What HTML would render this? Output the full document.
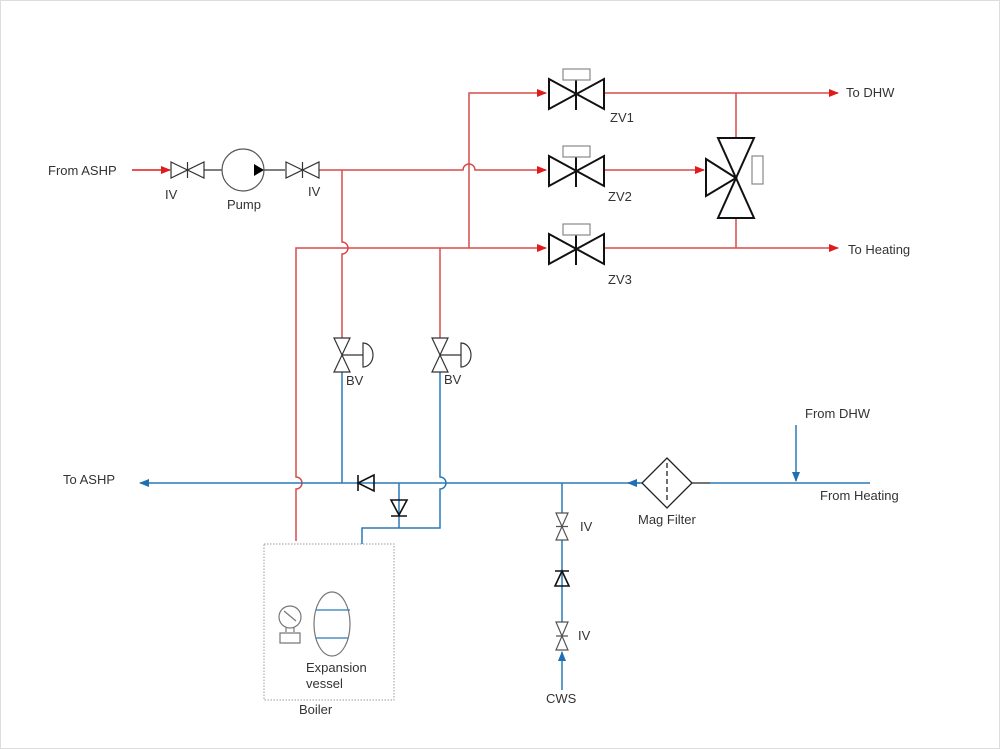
<!DOCTYPE html>
<html><head><meta charset="utf-8"><style>
html,body{margin:0;padding:0;background:#fff}
svg{display:block}
text{font-family:"Liberation Sans",Arial,sans-serif;font-size:13px;fill:#333}
</style></head><body>
<svg width="1000" height="749" viewBox="0 0 1000 749" xmlns="http://www.w3.org/2000/svg">
<defs>
<marker id="ar" markerWidth="10" markerHeight="8" refX="9" refY="4" orient="auto" markerUnits="userSpaceOnUse"><path d="M0,0 L10,4 L0,8 Z" fill="#e01b1b"/></marker>
<marker id="ab" markerWidth="10" markerHeight="8" refX="9" refY="4" orient="auto" markerUnits="userSpaceOnUse"><path d="M0,0 L10,4 L0,8 Z" fill="#1f6fb5"/></marker>
</defs>
<rect x="0.5" y="0.5" width="999" height="748" fill="none" stroke="#ddd"/>
<g fill="none" stroke="#d94a4a" stroke-width="1.5">
<path d="M132,170 H170" stroke="#e01b1b" marker-end="url(#ar)"/>
<path d="M319,170 H463 a6,6 0 0 1 12,0 H546" marker-end="url(#ar)"/>
<path d="M469,248 V93 H546" marker-end="url(#ar)"/>
<path d="M296,541 V489 a6,6 0 0 0 0,-12 V248 H546" marker-end="url(#ar)"/>
<path d="M342,170 V242 a6,6 0 0 1 0,12 V338"/>
<path d="M440,248 V338"/>
<path d="M604,93 H838" marker-end="url(#ar)"/>
<path d="M604,170 H704" marker-end="url(#ar)"/>
<path d="M604,248 H838" marker-end="url(#ar)"/>
<path d="M736,93 V138 M736,218 V248"/>
</g>
<g fill="none" stroke="#2a7ab8" stroke-width="1.5">
<path d="M870,483 H710"/>
<path d="M640,483 H140" marker-end="url(#ab)"/>
<path d="M642,483 H628" marker-end="url(#ab)"/>
<path d="M796,425 V481" marker-end="url(#ab)"/>
<path d="M342,372 V483 M440,372 V477 a6,6 0 0 1 0,12 V528 H362 V544 M399,483 V528"/>
<path d="M562,483 V513 M562,540 V622"/>
<path d="M562,690 V652" marker-end="url(#ab)"/>
</g>
<!-- IV valves on pump line -->
<g fill="none" stroke="#333" stroke-width="1.2">
<path d="M171,162 L204,178 V162 L171,178 Z M187.5,162 V178"/>
<path d="M204,170 H222 M264,170 H285"/>
<circle cx="243" cy="170" r="21" stroke="#555"/>
<path d="M286,162 L319,178 V162 L286,178 Z M302.5,162 V178"/>
</g>
<path d="M254,164 L264,170 L254,176 Z" fill="#000"/>
<!-- ZV valves -->
<g fill="none" stroke="#111" stroke-width="2">
<path d="M549,79 L604,109 V79 L549,109 Z M576,80 V110"/>
<path d="M549,156 L604,186 V156 L549,186 Z M576,157 V187"/>
<path d="M549,234 L604,264 V234 L549,264 Z M576,235 V265"/>
<path d="M718,138 H754 L718,218 H754 Z"/>
<path d="M706,159 L736,178 L706,196 Z"/>
</g>
<g fill="none" stroke="#888" stroke-width="1.2">
<rect x="563" y="69" width="27" height="11"/>
<rect x="563" y="146" width="27" height="11"/>
<rect x="563" y="224" width="27" height="11"/>
<rect x="752" y="156" width="11" height="28"/>
</g>
<!-- BV -->
<g fill="none" stroke="#333" stroke-width="1.2">
<path d="M334,338 H350 L334,372 H350 Z M342,355 H363 M363,343 a10,12 0 0 1 0,24 Z"/>
<path d="M432,338 H448 L432,372 H448 Z M440,355 H461 M461,343 a10,12 0 0 1 0,24 Z"/>
</g>
<!-- check valves -->
<g fill="none" stroke="#111" stroke-width="1.6">
<path d="M358,475 V491 M374,475 L358,483 L374,491 Z"/>
<path d="M391,500 H407 L399,515 Z M391,516 H407"/>
<path d="M555,586 L562,571 L569,586 Z M555,571 H569"/>
</g>
<!-- CWS IVs -->
<g fill="none" stroke="#555" stroke-width="1.2">
<path d="M556,513 H568 L556,540 H568 Z M556,526.5 H568"/>
<path d="M556,622 H568 L556,650 H568 Z M556,636 H568"/>
</g>
<!-- Mag filter -->
<g fill="none" stroke="#222" stroke-width="1.3">
<path d="M667,458 L692,483 L667,508 L642,483 Z"/>
<path d="M667,463 V503" stroke-dasharray="5,3"/>
<path d="M692,483 H710"/>
</g>
<!-- Boiler -->
<rect x="264" y="544" width="130" height="156" fill="none" stroke="#999" stroke-dasharray="1.5,1.5"/>
<g fill="none" stroke="#777" stroke-width="1.2">
<circle cx="290" cy="617" r="11"/>
<path d="M284,611 L296,621"/>
<path d="M286,628 V632 M294,628 V632 M280,633 H300 V643 H280 Z"/>
<ellipse cx="332" cy="624" rx="18" ry="32"/>
</g>
<path d="M316,610 H350 M316,638 H348" stroke="#2a7ab8" stroke-width="1.3"/>
<!-- labels -->
<text x="48" y="175">From ASHP</text>
<text x="165" y="199">IV</text>
<text x="227" y="209">Pump</text>
<text x="308" y="196">IV</text>
<text x="610" y="122">ZV1</text>
<text x="608" y="201">ZV2</text>
<text x="608" y="284">ZV3</text>
<text x="846" y="97">To DHW</text>
<text x="848" y="254">To Heating</text>
<text x="346" y="385">BV</text>
<text x="444" y="384">BV</text>
<text x="63" y="484">To ASHP</text>
<text x="805" y="418">From DHW</text>
<text x="820" y="500">From Heating</text>
<text x="638" y="524">Mag Filter</text>
<text x="580" y="531">IV</text>
<text x="578" y="640">IV</text>
<text x="546" y="703">CWS</text>
<text x="306" y="672">Expansion</text>
<text x="306" y="688">vessel</text>
<text x="299" y="714">Boiler</text>
</svg>
</body></html>
